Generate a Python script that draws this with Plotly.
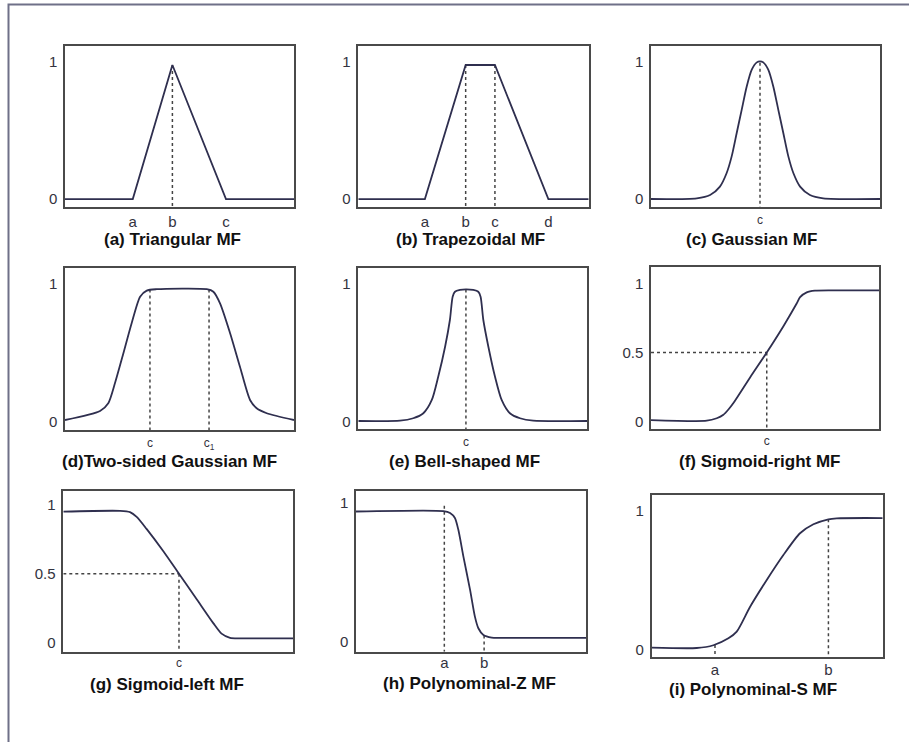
import plotly.graph_objects as go

# ---------------- data (x spans 0..10 in each panel) ----------------
tri_x = [0, 2.96, 4.69, 7.03, 10]
tri_y = [0, 0, 0.978, 0, 0]

trap_x = [0, 2.89, 4.66, 5.93, 8.25, 10]
trap_y = [0, 0, 0.978, 0.978, 0, 0]

gauss_x = [0, 2.00, 2.58, 3.01, 3.30, 3.52, 3.74, 3.96, 4.18, 4.40, 4.62, 4.76,
           4.90, 5.12, 5.34, 5.56, 5.78, 6.00, 6.22, 6.51, 6.94, 7.52, 10]
gauss_y = [0, 0.005, 0.029, 0.09, 0.187, 0.308, 0.478, 0.648, 0.818, 0.94, 0.993, 1.0,
           0.993, 0.94, 0.818, 0.648, 0.478, 0.308, 0.187, 0.09, 0.029, 0.005, 0]

twog_x = [0, 1.53, 1.89, 2.18, 2.55, 2.91, 3.28, 3.57, 4.0, 6.19, 6.48, 6.77, 7.21,
          7.64, 8.08, 8.37, 8.81, 10]
twog_y = [0.012, 0.077, 0.133, 0.277, 0.494, 0.711, 0.903, 0.947, 0.957, 0.957, 0.939,
          0.855, 0.639, 0.397, 0.157, 0.097, 0.061, 0.012]

bell_x = [0, 1.82, 2.40, 2.84, 3.21, 3.49, 3.79, 4.0, 4.12, 4.22, 4.44, 4.70, 5.02,
          5.24, 5.34, 5.46, 5.68, 5.97, 6.26, 6.62, 7.06, 7.64, 10]
bell_y = [0.005, 0.007, 0.025, 0.061, 0.157, 0.325, 0.542, 0.735, 0.903, 0.939, 0.952,
          0.957, 0.952, 0.939, 0.903, 0.735, 0.542, 0.325, 0.157, 0.061, 0.025, 0.007, 0.005]

sigr_x = [0, 2.44, 2.88, 3.17, 3.40, 3.61, 4.34, 5.07, 5.80, 6.38, 6.53, 6.82, 7.18, 7.99, 10]
sigr_y = [0.012, 0.007, 0.025, 0.05, 0.09, 0.135, 0.32, 0.5, 0.69, 0.854, 0.9,
          0.935, 0.947, 0.949, 0.949]

sigl_x = [0, 2.47, 2.90, 3.19, 3.62, 4.35, 5.03, 5.80, 6.52, 6.88, 7.25, 7.68, 10]
sigl_y = [0.951, 0.956, 0.947, 0.912, 0.825, 0.663, 0.5, 0.315, 0.142, 0.066, 0.036, 0.032, 0.032]

polyz_x = [0, 3.80, 4.09, 4.30, 4.45, 4.67, 4.96, 5.17, 5.32, 5.54, 5.90, 6.26, 10]
polyz_y = [0.939, 0.942, 0.928, 0.892, 0.807, 0.614, 0.374, 0.181, 0.097, 0.048, 0.029, 0.027, 0.027]

polys_x = [0, 1.95, 2.67, 3.32, 3.68, 4.26, 4.98, 5.70, 6.42, 7.0, 7.65, 8.01, 10]
polys_y = [0.012, 0.009, 0.029, 0.079, 0.127, 0.307, 0.5, 0.68, 0.837, 0.902, 0.938, 0.945, 0.947]

# guide positions and tick labels
tri_ticks = [2.96, 4.69, 7.03];        tri_labels = ["a", "b", "c"]
trap_ticks = [2.89, 4.66, 5.93, 8.25]; trap_labels = ["a", "b", "c", "d"]
gauss_ticks = [4.76];                  gauss_labels = ["c"]
twog_ticks = [3.71, 6.29];             twog_labels = ["c", "c<sub>1</sub>"]
bell_ticks = [4.70];                   bell_labels = ["c"]
sigr_ticks = [5.07];                   sigr_labels = ["c"]
sigl_ticks = [5.03];                   sigl_labels = ["c"]
polyz_ticks = [3.84, 5.57];            polyz_labels = ["a", "b"]
polys_ticks = [2.74, 7.65];            polys_labels = ["a", "b"]

titles = ["(a) Triangular MF", "(b) Trapezoidal MF", "(c) Gaussian MF",
          "(d)Two-sided Gaussian MF", "(e) Bell-shaped MF", "(f) Sigmoid-right MF",
          "(g) Sigmoid-left MF", "(h) Polynominal-Z MF", "(i) Polynominal-S MF"]

# ---------------- layout geometry (pixels) ----------------
W, H = 909, 742
FONT = "Liberation Sans, Arial, sans-serif"
LINE = "#2f2f4f"
GUIDE = "#444444"

panels = [
    dict(x=tri_x, y=tri_y, shape="linear", tv=tri_ticks, tt=tri_labels, tfs=15, so=0,
         box=(65, 45.7, 294, 207), yr=(-0.058, 1.119),
         guides=[(4.69, 0.978)], hguide=None, title_xy=(172, 239)),
    dict(x=trap_x, y=trap_y, shape="linear", tv=trap_ticks, tt=trap_labels, tfs=15, so=0,
         box=(358.3, 45.7, 588.7, 207), yr=(-0.058, 1.119),
         guides=[(4.66, 0.978), (5.93, 0.978)], hguide=None, title_xy=(470.5, 239)),
    dict(x=gauss_x, y=gauss_y, shape="spline", tv=gauss_ticks, tt=gauss_labels, tfs=12, so=1,
         box=(651, 46, 880, 207), yr=(-0.058, 1.112),
         guides=[(4.76, 0.99)], hguide=None, title_xy=(751, 239)),
    dict(x=twog_x, y=twog_y, shape="spline", tv=twog_ticks, tt=twog_labels, tfs=12, so=1,
         box=(65, 268.3, 294, 430), yr=(-0.06, 1.108),
         guides=[(3.71, 0.955), (6.29, 0.955)], hguide=None, title_xy=(169, 461.5)),
    dict(x=bell_x, y=bell_y, shape="spline", tv=bell_ticks, tt=bell_labels, tfs=12, so=1,
         box=(358.3, 267.7, 587.3, 429.3), yr=(-0.055, 1.113),
         guides=[(4.70, 0.955)], hguide=None, title_xy=(464.5, 461)),
    dict(x=sigr_x, y=sigr_y, shape="spline", tv=sigr_ticks, tt=sigr_labels, tfs=12, so=0,
         box=(651, 267.3, 879.3, 429.3), yr=(-0.055, 1.116),
         guides=[(5.07, 0.5)], hguide=(5.07, 0.5), title_xy=(759, 461)),
    dict(x=sigl_x, y=sigl_y, shape="spline", tv=sigl_ticks, tt=sigl_labels, tfs=12, so=-1,
         box=(63.3, 491, 293.3, 651.7), yr=(-0.065, 1.10),
         guides=[(5.03, 0.5)], hguide=(5.03, 0.5), title_xy=(166.7, 684)),
    dict(x=polyz_x, y=polyz_y, shape="spline", tv=polyz_ticks, tt=polyz_labels, tfs=15, so=-3,
         box=(356, 491, 586, 651.7), yr=(-0.072, 1.087),
         guides=[(3.84, 0.98), (5.57, 0.045)], hguide=None, title_xy=(469, 683.5)),
    dict(x=polys_x, y=polys_y, shape="spline", tv=polys_ticks, tt=polys_labels, tfs=15, so=-2,
         box=(651.7, 495.3, 882.7, 657.3), yr=(-0.058, 1.111),
         guides=[(2.74, 0.03), (7.65, 0.938)], hguide=None, title_xy=(753, 689.5)),
]

fig = go.Figure()
layout = dict(width=W, height=H, margin=dict(l=0, r=0, t=0, b=0),
              paper_bgcolor="white", plot_bgcolor="white", showlegend=False,
              font=dict(family=FONT, color="#333340"))
annotations = []

for i, p in enumerate(panels):
    n = "" if i == 0 else str(i + 1)
    xa, ya = "x" + n, "y" + n
    l, t, r, b = p["box"]
    ymin = p["yr"][0]
    for gx, gy in p["guides"]:
        fig.add_trace(go.Scatter(x=[gx, gx], y=[gy, ymin], mode="lines", xaxis=xa, yaxis=ya,
                                 line=dict(color=GUIDE, width=1.5, dash="dot"),
                                 hoverinfo="skip"))
    if p["hguide"] is not None:
        hx, hy = p["hguide"]
        fig.add_trace(go.Scatter(x=[0, hx], y=[hy, hy], mode="lines", xaxis=xa, yaxis=ya,
                                 line=dict(color=GUIDE, width=1.5, dash="dot"),
                                 hoverinfo="skip"))
    fig.add_trace(go.Scatter(x=p["x"], y=p["y"], mode="lines", xaxis=xa, yaxis=ya,
                             line=dict(color=LINE, width=1.8, shape=p["shape"], smoothing=0.7),
                             hoverinfo="skip"))
    yt = [0, 0.5, 1] if p["hguide"] is not None else [0, 1]
    ytt = ["0", "0.5", "1"] if p["hguide"] is not None else ["0", "1"]
    layout["xaxis" + n] = dict(domain=[l / W, r / W], range=[0, 10], anchor=ya,
                               showgrid=False, zeroline=False, showline=True, mirror=True,
                               linecolor="#4a4a4a", linewidth=1.5, ticks="",
                               tickvals=p["tv"], ticktext=p["tt"],
                               tickfont=dict(size=p["tfs"], color="#333340", family=FONT),
                               ticklabelstandoff=p["so"], fixedrange=True)
    layout["yaxis" + n] = dict(domain=[1 - b / H, 1 - t / H], range=list(p["yr"]), anchor=xa,
                               showgrid=False, zeroline=False, showline=True, mirror=True,
                               linecolor="#4a4a4a", linewidth=1.5, ticks="",
                               tickvals=yt, ticktext=ytt,
                               tickfont=dict(size=15, color="#333340", family=FONT),
                               ticklabelstandoff=3, fixedrange=True)
    tx, ty = p["title_xy"]
    annotations.append(dict(text="<b>" + titles[i] + "</b>", x=tx / W, y=1 - ty / H,
                            xref="paper", yref="paper", xanchor="center", yanchor="middle",
                            showarrow=False, font=dict(size=17, color="#111111", family=FONT)))

layout["annotations"] = annotations
layout["shapes"] = [dict(type="rect", xref="paper", yref="paper",
                         x0=8.5 / W, x1=1.02, y0=-0.02, y1=1 - 4.5 / H,
                         line=dict(color="#6f7088", width=2), layer="below")]
fig.update_layout(**layout)
fig.write_html("out.html", config={"displayModeBar": False},
               post_script="document.body.style.margin='0';document.body.style.overflow='hidden';")
